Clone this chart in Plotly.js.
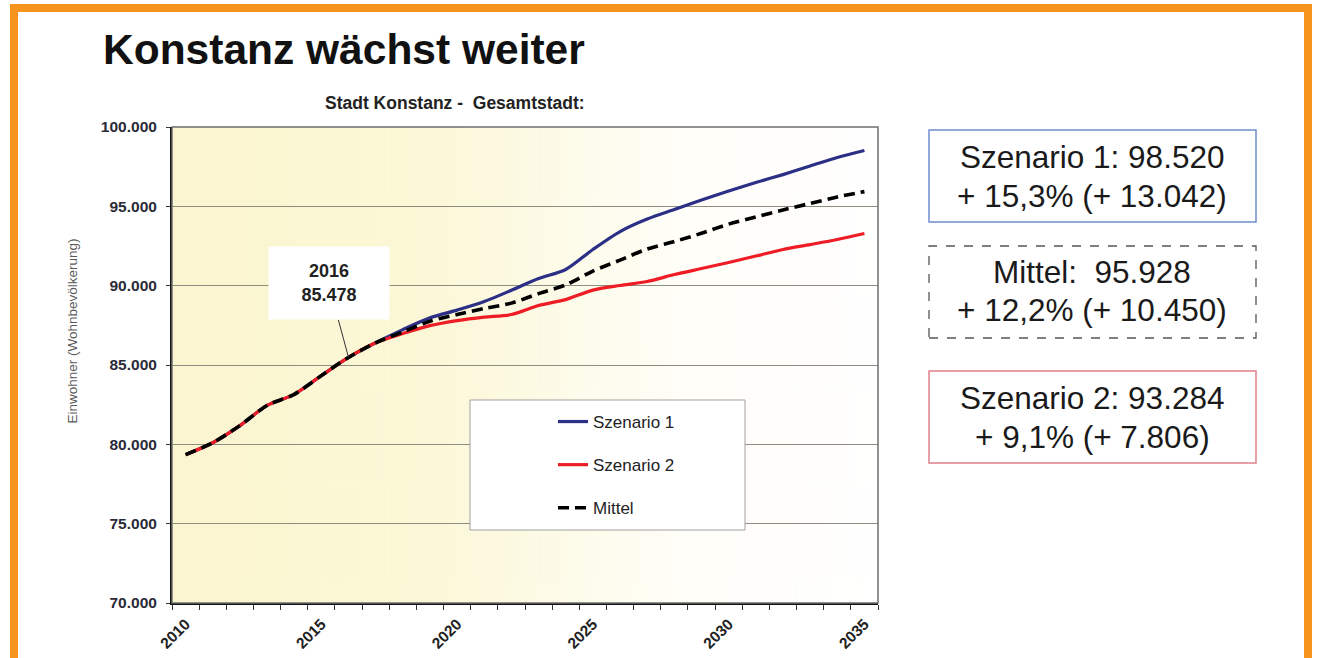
<!DOCTYPE html>
<html><head><meta charset="utf-8">
<script src="https://cdn.plot.ly/plotly-3.0.1.min.js"></script>
<style>html,body{margin:0;padding:0;background:#fff;overflow:hidden;} #chart{width:1323px;height:658px;}</style>
</head><body><div id="chart"></div>
<script>
// ---------- data ----------
const years = [2010,2011,2012,2013,2014,2015,2016,2017,2018,2019,2020,2021,2022,2023,2024,2025,2026,2027,2028,2029,2030,2031,2032,2033,2034,2035];
const szenario1 = [79350,80100,81180,82450,83150,84330,85478,86400,87230,87970,88460,89000,89710,90450,91020,92280,93410,94200,94800,95400,95970,96500,97000,97540,98080,98520];
const szenario2 = [79350,80100,81180,82450,83150,84330,85478,86400,86980,87480,87800,88020,88180,88750,89120,89720,90010,90260,90700,91080,91460,91870,92280,92590,92910,93284];
const mittel    = [79350,80100,81180,82450,83150,84330,85478,86400,87080,87760,88180,88560,88900,89500,90050,90920,91610,92310,92780,93300,93880,94330,94770,95180,95590,95928];
const seriesNames = ['Szenario 1','Szenario 2','Mittel'];
const xTickVals = [2010,2015,2020,2025,2030,2035];
const xTickText = ['2010','2015','2020','2025','2030','2035'];
const yTickVals = [70000,75000,80000,85000,90000,95000,100000];
const calloutYear = 2016, calloutValue = 85478, calloutText = '<b>2016<br>85.478</b>';
const titleText = 'Konstanz wächst weiter';
const subtitleText = 'Stadt Konstanz -\u00a0 Gesamtstadt:';
const yTitleText = 'Einwohner (Wohnbevölkerung)';
const boxLines = [
  ['Szenario 1: 98.520', '+ 15,3% (+ 13.042)'],
  ['Mittel:\u00a0 95.928', '+ 12,2% (+ 10.450)'],
  ['Szenario 2: 93.284', '+ 9,1% (+ 7.806)']
];

// ---------- geometry helpers ----------
const W = 1323, H = 658;
const M = {l:172, r:445, t:127, b:55};
const PW = W - M.l - M.r, PH = H - M.t - M.b;
const px = X => (X - M.l) / PW;
const py = Y => (H - M.b - Y) / PH;
const FONT = 'Liberation Sans, Arial, sans-serif';

// gradient background for plot area
const cv = document.createElement('canvas');
cv.width = 400; cv.height = 10;
const ctx = cv.getContext('2d');
const g = ctx.createLinearGradient(0,0,400,0);
g.addColorStop(0, 'rgb(251,246,208)');
g.addColorStop(0.35, 'rgb(252,247,214)');
g.addColorStop(0.55, 'rgb(253,251,232)');
g.addColorStop(0.72, 'rgb(255,254,248)');
g.addColorStop(1, 'rgb(255,255,255)');
ctx.fillStyle = g; ctx.fillRect(0,0,400,10);
const bgURL = cv.toDataURL('image/png');

const traces = [
  {x: years, y: szenario1, name: seriesNames[0], type:'scatter', mode:'lines', legendgroup:'a',
   line:{color:'#2b2f86', width:3.2, shape:'spline', smoothing:0.8}},
  {x: years, y: szenario2, name: seriesNames[1], type:'scatter', mode:'lines', legendgroup:'b',
   line:{color:'#ee1c25', width:3.2, shape:'spline', smoothing:0.8}},
  {x: years, y: mittel, name: seriesNames[2], type:'scatter', mode:'lines', legendgroup:'c',
   line:{color:'#000000', width:3.6, dash:'11px,6px', shape:'spline', smoothing:0.8}}
];

const boxTops = [130, 246, 371], boxBottoms = [222, 338, 463];
const boxColors = ['#6f8fcf', '#555555', '#e2808c'];
const boxDash = ['solid', 'dash', 'solid'];
const lineYs = [[157, 196], [272, 310], [398, 437]];

const shapes = [
  {type:'rect', xref:'paper', yref:'paper', x0:px(14), x1:px(1308), y0:py(720), y1:py(8),
   line:{color:'#f7941d', width:8}, fillcolor:'rgba(0,0,0,0)', layer:'above'},
  {type:'rect', xref:'paper', yref:'paper', x0:0, x1:1, y0:0, y1:1,
   line:{color:'#6e6e6e', width:1.5}, fillcolor:'rgba(0,0,0,0)', layer:'above'},
  {type:'rect', xref:'paper', yref:'paper', x0:px(470), x1:px(745), y0:py(530), y1:py(400),
   line:{color:'#a0a0a0', width:1}, fillcolor:'#ffffff', layer:'above'}
];
boxTops.forEach((t,i) => shapes.push({type:'rect', xref:'paper', yref:'paper',
  x0:px(929), x1:px(1256), y0:py(boxBottoms[i]), y1:py(t),
  line:{color:boxColors[i], width: i===1 ? 1.3 : 1.5, dash:boxDash[i]}, fillcolor:'#ffffff', layer:'above'}));

const annotations = [
  {text:'<b>'+titleText+'</b>', xref:'paper', yref:'paper', x:px(101), y:py(50), xanchor:'left', yanchor:'middle',
   showarrow:false, font:{family:FONT, size:42.5, color:'#111'}},
  {text:'<b>'+subtitleText+'</b>', xref:'paper', yref:'paper', x:px(455), y:py(103), xanchor:'center', yanchor:'middle',
   showarrow:false, font:{family:FONT, size:17.5, color:'#222'}},
  {text:yTitleText, xref:'paper', yref:'paper', x:px(71.5), y:py(331), xanchor:'center', yanchor:'middle',
   textangle:-90, showarrow:false, font:{family:FONT, size:13.5, color:'#5a5a5a'}},
  {text: calloutText, x: calloutYear, y: calloutValue, xref:'x', yref:'y',
   showarrow:true, arrowhead:0, arrowwidth:1, arrowcolor:'#333', ax:-20, ay:-74,
   bgcolor:'#ffffff', width:120, height:72, borderpad:0, align:'center',
   font:{family:FONT, size:18, color:'#222'}}
];
boxLines.forEach((pair,i) => pair.forEach((t,j) => annotations.push({
  text:t, xref:'paper', yref:'paper', x:px(1092), y:py(lineYs[i][j]), xanchor:'center', yanchor:'middle',
  showarrow:false, font:{family:FONT, size:31.5, color:'#1a1a1a'}})));

const layout = {
  width: W, height: H,
  margin: M,
  paper_bgcolor:'#ffffff', plot_bgcolor:'rgba(0,0,0,0)',
  separators: ',.',
  font:{family:FONT, color:'#222'},
  showlegend:true,
  legend:{x:px(553), y:py(404), xanchor:'left', yanchor:'top', bgcolor:'rgba(0,0,0,0)', borderwidth:0,
          tracegroupgap:18, font:{family:FONT, size:17, color:'#222'}},
  xaxis:{range:[2009.5, 2035.5], tickmode:'array', tickvals:xTickVals, ticktext:xTickText,
         tickangle:-45, ticks:'', showgrid:false, zeroline:false,
         showline:true, linecolor:'#111', linewidth:2, ticklabelstandoff:4,
         tickfont:{family:FONT, size:15.5, color:'#222', weight:'bold'},
         minor:{tickmode:'linear', tick0:2009.5, dtick:1, ticks:'outside', ticklen:5, tickwidth:1, tickcolor:'#333', showgrid:false}},
  yaxis:{range:[70000, 100000], tickmode:'array', tickvals:yTickVals, tickformat:',d',
         ticks:'outside', ticklen:4, tickcolor:'#333', showgrid:true, gridcolor:'#8e8e80', gridwidth:1,
         zeroline:false, showline:true, linecolor:'#111', linewidth:2, ticklabelstandoff:6,
         tickfont:{family:FONT, size:15.5, color:'#2a2a38', weight:'bold'}},
  shapes: shapes,
  annotations: annotations,
  images:[{source:bgURL, xref:'paper', yref:'paper', x:0, y:1, sizex:1, sizey:1, sizing:'stretch',
           xanchor:'left', yanchor:'top', layer:'below'}]
};

Plotly.newPlot('chart', traces, layout, {displayModeBar:false, staticPlot:true});
</script>
</body></html>
